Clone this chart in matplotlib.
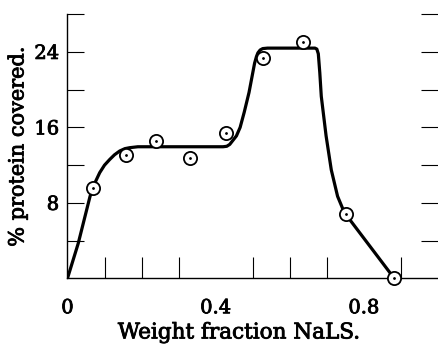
import numpy as np
import matplotlib.pyplot as plt
import matplotlib.patheffects as pe

# measured points (circles)
frac_pts = [0.069, 0.158, 0.240, 0.332, 0.427, 0.529, 0.637, 0.752, 0.882]
cover_pts = [9.6, 13.1, 14.6, 12.8, 15.4, 23.4, 25.0, 6.8, 0.0]

# hand drawn curve
frac_curve = [0.0, 0.029, 0.061, 0.075, 0.087, 0.10, 0.114, 0.127, 0.141,
              0.155, 0.168, 0.19,
              0.42, 0.43, 0.438, 0.446, 0.456, 0.466, 0.477, 0.49, 0.505, 0.51,
              0.514, 0.52, 0.527, 0.54,
              0.668, 0.673, 0.677, 0.681, 0.685, 0.698, 0.712, 0.729, 0.747,
              0.882]
cover_curve = [0.0, 3.7, 8.7, 10.2, 11.2, 12.0, 12.6, 13.1, 13.5,
               13.75, 13.85, 13.95,
               13.95, 14.0, 14.2, 14.6, 15.1, 16.0, 17.6, 19.7, 22.8, 23.5,
               23.9, 24.2, 24.35, 24.4,
               24.4, 24.3, 23.8, 21.8, 19.3, 15.1, 11.5, 8.7, 7.0,
               0.0]

plt.rcParams['font.family'] = 'DejaVu Serif'
thick = [pe.withStroke(linewidth=0.6, foreground='black')]

fig = plt.figure(figsize=(4.38, 3.45), dpi=100)
ax = fig.add_axes([0.154, 0.193, 0.846, 0.766])

ax.plot(frac_curve, cover_curve, color='black', lw=2.3, solid_capstyle='round',
        solid_joinstyle='round', zorder=2)
ax.plot(frac_pts, cover_pts, 'o', ms=9.5, mfc='white', mec='black', mew=1.3,
        clip_on=False, zorder=3)
ax.plot(frac_pts, cover_pts, '.', ms=2, color='black', clip_on=False, zorder=4)

ax.set_xlim(0, 1.0)
ax.set_ylim(0, 28)
ax.spines['top'].set_visible(False)
ax.spines['right'].set_visible(False)
ax.spines['left'].set_linewidth(1.0)
ax.spines['bottom'].set_linewidth(1.0)

ax.set_xticks([0, 0.4, 0.8])
ax.set_xticklabels(['0', '0.4', '0.8'])
ax.set_xticks(np.arange(0.1, 1.0, 0.1), minor=True)
ax.set_yticks([8, 16, 24])
ax.set_yticks([4, 12, 20, 28], minor=True)

ax.tick_params(axis='x', which='both', direction='in', length=15, width=0.8,
               pad=15, labelsize=14)
ax.tick_params(axis='x', which='major', length=0)
ax.tick_params(axis='y', which='both', direction='in', length=12, width=0.8,
               pad=6, labelsize=14, right=True)
for lab in ax.get_xticklabels() + ax.get_yticklabels():
    lab.set_path_effects(thick)

ax.set_xlabel('Weight fraction NaLS.', fontsize=15.5, labelpad=3,
              path_effects=thick)
ax.xaxis.label.set_x(0.463)
ax.set_ylabel('% protein covered.', fontsize=15, labelpad=5,
              path_effects=thick)

fig.savefig('out.png', dpi=100)
